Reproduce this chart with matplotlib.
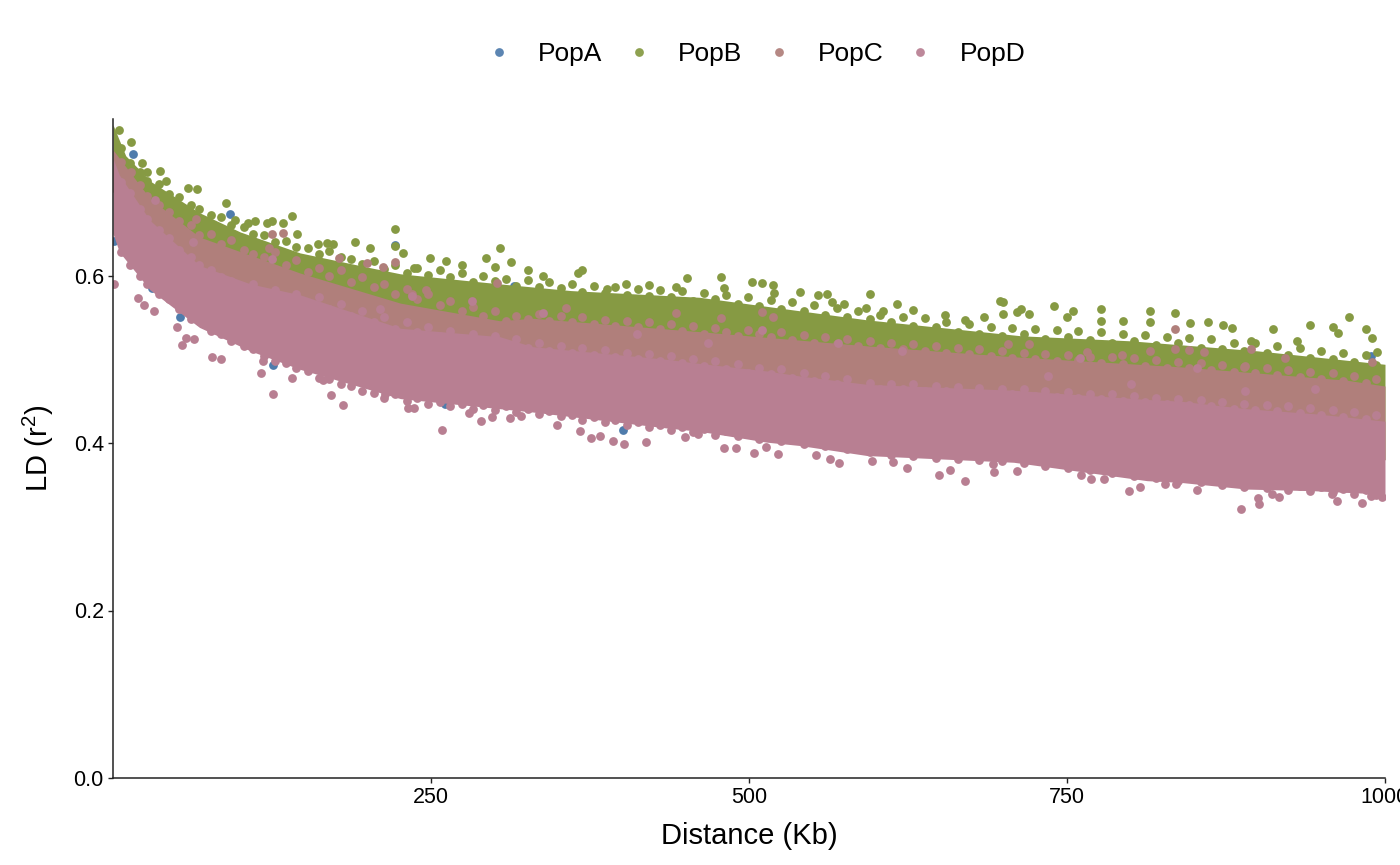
import matplotlib
matplotlib.use("Agg")
import matplotlib.pyplot as plt
from matplotlib.lines import Line2D

plt.rcParams['font.family'] = ['Liberation Sans', 'DejaVu Sans']
plt.rcParams['mathtext.default'] = 'regular'

pop_names = ["PopA", "PopB", "PopC", "PopD"]
pop_colors = ["#4F7CAC", "#869A43", "#B07F7B", "#B87F92"]

# Dense body of each cloud (distance in Kb, r2)
b_body_x = [0, 10, 30, 68, 100, 147, 200, 226, 304, 360, 461, 593, 714, 800, 900, 1000]
b_body_top = [.78, .743, .712, .675, .652, .627, .610, .602, .590, .582, .574, .547, .528, .522, .510, .494]
b_body_low = [.70, .68, .63, .58, .55, .53, .50, .49, .48, .47, .45, .43, .42, .41, .40, .38]

c_body_x = [0, 29, 68, 147, 226, 304, 330, 461, 593, 708, 839, 970, 1000]
c_body_top = [.75, .692, .646, .603, .567, .546, .549, .533, .516, .503, .491, .475, .468]
c_body_low = [.70, .63, .58, .53, .49, .48, .47, .45, .43, .42, .41, .39, .38]

d_body_x = [0, 5, 29, 68, 108, 147, 226, 304, 330, 435, 461, 514, 540, 593, 708, 813, 839, 891, 944, 970, 1000]
d_body_top = [.74, .72, .666, .612, .590, .577, .537, .527, .515, .500, .495, .486, .480, .470, .463, .452, .450, .441, .435, .431, .426]
d_body_low = [.65, .628, .583, .538, .510, .488, .453, .441, .437, .418, .414, .401, .397, .385, .377, .355, .353, .345, .343, .341, .339]

# Points along the rim of each cloud
rim_x = [6, 13, 21, 27, 36, 44, 52, 61, 68, 77,
         85, 93, 103, 110, 119, 127, 136, 144, 153, 162,
         170, 179, 187, 196, 205, 213, 222, 231, 239, 248,
         257, 265, 274, 283, 291, 300, 309, 317, 326, 335,
         343, 352, 361, 369, 378, 387, 395, 404, 413, 421,
         430, 439, 447, 456, 465, 473, 482, 491, 499, 508,
         517, 525, 534, 543, 551, 560, 569, 577, 586, 595,
         603, 612, 621, 629, 638, 647, 655, 664, 673, 681,
         690, 699, 707, 716, 725, 733, 742, 751, 759, 768,
         777, 785, 794, 803, 811, 820, 829, 837, 846, 855,
         863, 872, 881, 889, 898, 907, 915, 924, 933, 941,
         950, 959, 967, 976, 985, 993]
b_rim = [.752, .734, .724, .713, .709, .697, .694, .684, .680, .672,
         .670, .660, .658, .650, .648, .640, .641, .634, .633, .626,
         .629, .622, .620, .614, .617, .608, .612, .603, .609, .601,
         .606, .598, .603, .592, .600, .594, .596, .588, .595, .586,
         .592, .585, .590, .580, .588, .579, .586, .577, .584, .575,
         .583, .574, .581, .570, .579, .572, .577, .566, .574, .564,
         .571, .560, .568, .558, .565, .553, .561, .550, .558, .548,
         .553, .544, .551, .540, .549, .538, .545, .533, .542, .530,
         .539, .528, .537, .530, .536, .524, .535, .526, .534, .523,
         .532, .520, .530, .522, .529, .517, .527, .519, .525, .514,
         .524, .512, .520, .510, .519, .508, .516, .505, .514, .502,
         .510, .500, .507, .497, .505, .493]
c_rim = [.735, .722, .708, .695, .684, .676, .665, .660, .648, .650,
         .638, .642, .630, .626, .622, .628, .612, .618, .604, .609,
         .600, .606, .592, .598, .586, .590, .578, .584, .572, .578,
         .565, .570, .558, .562, .552, .558, .546, .552, .548, .554,
         .546, .552, .544, .550, .542, .547, .540, .546, .538, .544,
         .536, .542, .534, .540, .530, .537, .532, .528, .535, .530,
         .526, .532, .523, .529, .520, .527, .518, .524, .516, .522,
         .514, .520, .512, .518, .510, .516, .508, .514, .506, .512,
         .504, .510, .502, .508, .500, .506, .498, .505, .499, .503,
         .496, .503, .494, .501, .492, .499, .490, .497, .489, .495,
         .487, .493, .485, .491, .483, .489, .481, .487, .479, .485,
         .477, .483, .474, .480, .472, .477]
d_rim_top = [.712, .698, .680, .668, .654, .645, .630, .622, .612, .606,
             .598, .594, .586, .590, .578, .583, .572, .578, .566, .574,
             .560, .566, .552, .558, .544, .550, .536, .544, .532, .538,
             .528, .534, .524, .530, .522, .528, .518, .524, .514, .520,
             .510, .516, .508, .513, .505, .511, .503, .508, .500, .506,
             .498, .504, .495, .500, .492, .498, .488, .494, .484, .490,
             .482, .488, .478, .484, .474, .480, .470, .477, .466, .472,
             .465, .471, .464, .470, .462, .468, .462, .467, .460, .466,
             .459, .465, .458, .464, .456, .462, .455, .461, .454, .459,
             .452, .458, .450, .456, .449, .454, .447, .453, .445, .451,
             .444, .449, .441, .447, .440, .445, .438, .444, .436, .442,
             .434, .440, .431, .437, .429, .434]
d_rim_low = [.628, .612, .600, .590, .578, .572, .560, .548, .546, .534,
             .530, .522, .516, .512, .504, .498, .496, .490, .486, .478,
             .476, .470, .468, .462, .460, .454, .458, .450, .454, .447,
             .449, .444, .447, .441, .445, .439, .444, .437, .441, .435,
             .438, .432, .434, .428, .431, .425, .428, .422, .425, .419,
             .421, .416, .419, .413, .417, .410, .414, .408, .411, .405,
             .408, .402, .405, .399, .402, .396, .399, .393, .396, .389,
             .392, .386, .390, .384, .389, .382, .388, .381, .386, .380,
             .385, .378, .383, .376, .380, .373, .377, .370, .374, .368,
             .371, .364, .368, .361, .365, .358, .362, .355, .360, .353,
             .357, .350, .354, .347, .353, .346, .351, .344, .349, .343,
             .347, .341, .345, .339, .344, .338]

# Individually visible points
a_x = [16, 1, 31, 222, 92, 126, 315, 480, 401, 430, 844, 261, 53, 899, 989]
a_y = [.745, .641, .585, .636, .674, .493, .587, .556, .416, .432, .387, .446, .55, .502, .504]

b_x = [14, 5, 23, 26.5, 37, 42, 59, 66, 89, 96, 106, 112, 121, 125, 141, 134, 145, 161, 168, 173, 190, 202, 222, 222, 228,
       237, 249, 262, 274, 293, 304, 313, 300, 326, 338, 365.6, 369, 388, 403, 421, 443, 451, 478, 480, 502, 510, 519, 520,
       540, 554, 561, 565, 575, 595, 592, 616, 605, 629, 654, 670, 685, 697, 700, 700, 711, 714, 720, 740, 755, 750, 777,
       777, 794, 815, 815, 835, 847, 861, 873, 880, 895, 912, 931, 941, 959, 963, 972, 985, 990, 994]
b_y = [.759, .774, .734, .723, .725, .713, .705, .703, .686, .666, .663, .665, .663, .665, .671, .663, .65, .638, .639, .638,
       .64, .633, .656, .635, .627, .609, .621, .617, .612, .621, .633, .616, .61, .606, .6, .603, .606, .584, .59, .589, .586,
       .597, .598, .585, .592, .591, .589, .579, .58, .577, .578, .568, .566, .578, .561, .566, .558, .559, .553, .547, .55,
       .569, .568, .554, .557, .56, .554, .563, .558, .55, .56, .546, .546, .558, .545, .555, .543, .545, .541, .537, .522,
       .536, .522, .541, .538, .531, .55, .536, .525, .509]

c_x = [14, 65, 125, 134, 123, 178, 200, 212, 222, 235, 246, 302, 356, 443, 510, 519, 478, 835, 704, 720, 766, 793, 815, 835,
       846, 858, 895, 921, 890, 990]
c_y = [.723, .668, .65, .651, .633, .621, .615, .61, .616, .578, .583, .591, .561, .555, .556, .55, .549, .536, .518, .518,
       .509, .505, .51, .512, .511, .509, .512, .501, .492, .497]

d_x = [1, 20, 24, 32, 50, 57, 64, 54, 78, 85, 118, 116, 141, 126, 171, 181, 165, 214, 232, 237, 259, 289, 280, 298, 312, 321,
       349, 367, 376, 383, 393, 402, 419, 450, 460, 480, 490, 504, 523, 513, 553, 564, 571, 597, 613, 624, 649, 658, 670, 693,
       692, 711, 761, 769, 779, 799, 807, 827, 836, 852, 887, 901, 900, 917, 911, 958, 962, 982, 998, 989,
       33, 63, 125, 210, 235, 282, 338, 412, 468, 510, 570, 620, 735, 760, 800, 852, 890, 945]
d_y = [.59, .573, .565, .558, .539, .525, .524, .517, .503, .5, .498, .483, .478, .459, .457, .445, .475, .459, .442, .442,
       .415, .426, .436, .431, .43, .432, .421, .414, .406, .408, .402, .399, .401, .407, .411, .394, .394, .388, .387, .395,
       .386, .381, .376, .379, .377, .37, .362, .368, .355, .365, .375, .367, .362, .357, .357, .343, .347, .351, .351, .344,
       .321, .327, .334, .336, .339, .339, .331, .328, .336, .337,
       .690, .640, .620, .560, .575, .570, .555, .530, .520, .535, .520, .510, .480, .502, .470, .490, .462, .465]

fig = plt.figure(figsize=(14, 8.65), dpi=100)
ax = fig.add_axes([113 / 1400, 1 - 778 / 865, 1272 / 1400, 659 / 865])

ax.scatter(a_x, a_y, s=40, color=pop_colors[0], linewidths=0, zorder=2)
ax.fill_between(b_body_x, b_body_low, b_body_top, color=pop_colors[1], linewidth=0, zorder=2.1)
ax.scatter(b_x + rim_x, b_y + b_rim, s=40, color=pop_colors[1], linewidths=0, zorder=2.2)
ax.fill_between(c_body_x, c_body_low, c_body_top, color=pop_colors[2], linewidth=0, zorder=2.3)
ax.scatter(c_x + rim_x, c_y + c_rim, s=40, color=pop_colors[2], linewidths=0, zorder=2.4)
ax.fill_between(d_body_x, d_body_low, d_body_top, color=pop_colors[3], linewidth=0, zorder=2.5)
ax.scatter(d_x + rim_x + rim_x, d_y + d_rim_top + d_rim_low, s=40, color=pop_colors[3], linewidths=0, zorder=2.6)

ax.set_xlim(0, 1000)
ax.set_ylim(0, 659 / 837.5)
ax.set_xticks([250, 500, 750, 1000])
ax.set_xticklabels(["250", "500", "750", "1000"], clip_on=False)
ax.set_yticks([0, .2, .4, .6])
ax.set_yticklabels(["0.0", "0.2", "0.4", "0.6"])
ax.tick_params(labelsize=15.5, length=3.6, width=1, color="#222222", labelcolor="black", pad=3)
ax.spines[['top', 'right']].set_visible(False)
for s in ('left', 'bottom'):
    ax.spines[s].set_linewidth(1.1)
    ax.spines[s].set_color("#222222")
    ax.spines[s].set_zorder(5)
ax.set_xlabel("Distance (Kb)", fontsize=21, labelpad=10)
ax.set_ylabel("LD (r$^2$)", fontsize=21, labelpad=13)

handles = [Line2D([], [], marker='o', linestyle='', markersize=6.3, markeredgewidth=0,
                  color=c, alpha=.93) for c in pop_colors]
fig.legend(handles, pop_names, loc='center', bbox_to_anchor=(755.5 / 1400, 1 - 54 / 865), ncol=4,
           frameon=False, fontsize=19, handletextpad=1.0, columnspacing=0.87, handlelength=1.0)

fig.savefig("out.png", dpi=100)
